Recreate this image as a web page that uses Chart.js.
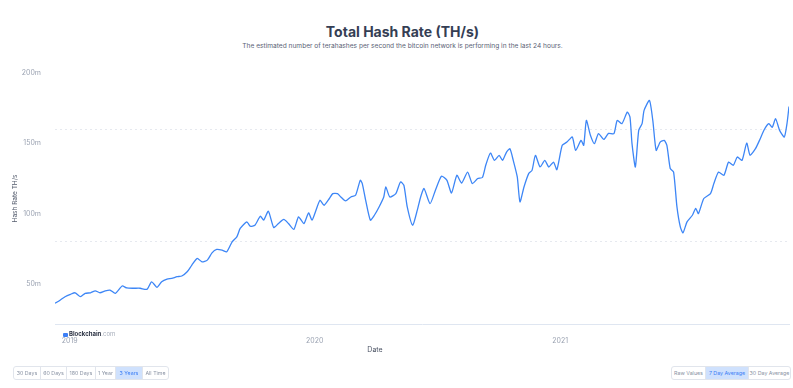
<!DOCTYPE html>
<html>
<head>
<meta charset="utf-8">
<script src="https://cdn.jsdelivr.net/npm/chart.js@4.4.1/dist/chart.umd.min.js"></script>
<style>
  body { margin: 0; width: 793px; height: 388px; background: #fff; position: relative; overflow: hidden; font-family: Inter, "Open Sans", sans-serif; }
  #chart-wrap { position: absolute; left: 0; top: 0; width: 793px; height: 360px; }
  #title { position: absolute; left: 0; width: 805px; top: 23px; text-align: center; font-size: 14px; font-weight: 700; color: #353e54; }
  #subtitle { position: absolute; left: 0; width: 805px; top: 42px; text-align: center; font-size: 6.6px; color: #5a6275; }
  #brand { position: absolute; left: 63px; top: 330px; font-size: 6px; line-height: 8px; color: #a7aebb; }
  #brand b { color: #2b3243; }
  #brand i { display: inline-block; width: 5px; height: 4px; background: #3d7ff5; border-radius: 1px; margin-right: 1px; vertical-align: -0.5px; }
  #xtitle { position: absolute; left: 355px; width: 40px; top: 345px; text-align: center; font-size: 7px; color: #4a5263; }
  .group { position: absolute; top: 366px; height: 14px; display: flex; border: 1px solid #e1e5ec; border-radius: 3px; box-sizing: border-box; }
  .group div { height: 12px; line-height: 12px; text-align: center; font-size: 5.3px; color: #8a93a4; border-right: 1px solid #e1e5ec; box-sizing: border-box; white-space: nowrap; overflow: hidden; }
  .group div:last-child { border-right: none; }
  .group div.on { background: #cfe1fd; color: #3d7ff5; }
</style>
</head>
<body>
<div id="title">Total Hash Rate (TH/s)</div>
<div id="subtitle">The estimated number of terahashes per second the bitcoin network is performing in the last 24 hours.</div>
<div id="chart-wrap"><canvas id="chart"></canvas></div>
<div id="brand"><i></i><b>Blockchain</b>.com</div>
<div id="xtitle">Date</div>
<div class="group" style="left:13px;">
  <div style="width:27px">30 Days</div>
  <div style="width:26px">60 Days</div>
  <div style="width:29px">180 Days</div>
  <div style="width:20px">1 Year</div>
  <div style="width:27px" class="on">3 Years</div>
  <div style="width:25px">All Time</div>
</div>
<div class="group" style="left:671px;">
  <div style="width:34px">Raw Values</div>
  <div style="width:43px" class="on">7 Day Average</div>
  <div style="width:41px">30 Day Average</div>
</div>
<script>
// 7 day average hash rate, millions of TH/s
const dates = [
  "2018-12-10", "2018-12-18", "2018-12-25", "2019-01-02", "2019-01-09", "2019-01-17", "2019-01-24",
  "2019-02-01", "2019-02-08", "2019-02-15", "2019-02-23", "2019-03-02", "2019-03-10", "2019-03-20",
  "2019-03-27", "2019-04-06", "2019-04-16", "2019-04-26", "2019-05-03", "2019-05-11", "2019-05-18",
  "2019-05-26", "2019-06-02", "2019-06-10", "2019-06-17", "2019-06-25", "2019-07-02", "2019-07-10",
  "2019-07-17", "2019-07-25", "2019-08-01", "2019-08-08", "2019-08-16", "2019-08-23", "2019-08-31",
  "2019-09-07", "2019-09-12", "2019-09-22", "2019-09-27", "2019-10-04", "2019-10-12", "2019-10-17",
  "2019-10-24", "2019-11-01", "2019-11-08", "2019-11-16", "2019-11-23", "2019-12-01", "2019-12-08",
  "2019-12-16", "2019-12-23", "2019-12-28", "2020-01-03", "2020-01-09", "2020-01-15", "2020-01-23",
  "2020-01-28", "2020-02-04", "2020-02-09", "2020-02-16", "2020-02-24", "2020-03-02", "2020-03-09",
  "2020-03-12", "2020-03-17", "2020-03-24", "2020-03-30", "2020-04-06", "2020-04-13", "2020-04-16",
  "2020-04-22", "2020-05-01", "2020-05-08", "2020-05-13", "2020-05-18", "2020-05-26", "2020-06-02",
  "2020-06-07", "2020-06-12", "2020-06-21", "2020-06-29", "2020-07-08", "2020-07-16", "2020-07-23",
  "2020-07-31", "2020-08-07", "2020-08-16", "2020-08-23", "2020-08-31", "2020-09-07", "2020-09-12",
  "2020-09-19", "2020-09-25", "2020-10-02", "2020-10-07", "2020-10-13", "2020-10-18", "2020-10-23",
  "2020-10-29", "2020-11-02", "2020-11-08", "2020-11-15", "2020-11-20", "2020-11-25", "2020-12-02",
  "2020-12-09", "2020-12-15", "2020-12-22", "2020-12-27", "2021-01-04", "2021-01-11", "2021-01-19",
  "2021-01-24", "2021-02-01", "2021-02-05", "2021-02-09", "2021-02-15", "2021-02-21", "2021-02-27",
  "2021-03-07", "2021-03-14", "2021-03-22", "2021-03-27", "2021-04-03", "2021-04-11", "2021-04-15",
  "2021-04-18", "2021-04-23", "2021-04-28", "2021-05-03", "2021-05-06", "2021-05-14", "2021-05-19",
  "2021-05-24", "2021-05-30", "2021-06-05", "2021-06-09", "2021-06-14", "2021-06-19", "2021-06-24",
  "2021-06-29", "2021-07-03", "2021-07-09", "2021-07-17", "2021-07-22", "2021-07-26", "2021-08-03",
  "2021-08-13", "2021-08-18", "2021-08-25", "2021-09-02", "2021-09-09", "2021-09-16", "2021-09-22",
  "2021-09-29", "2021-10-06", "2021-10-11", "2021-10-19", "2021-10-25", "2021-11-01", "2021-11-08",
  "2021-11-13", "2021-11-18", "2021-11-24", "2021-12-01", "2021-12-05", "2021-12-08"
];
const hashRate = [
  36.3, 38.7, 41.0, 42.7, 43.8, 41.0, 43.4,
  43.8, 45.2, 43.8, 45.2, 45.7, 43.4, 48.6,
  47.2, 47.0, 47.0, 46.2, 51.6, 47.7, 51.6,
  53.5, 54.0, 55.2, 55.7, 58.7, 63.5, 68.2,
  65.8, 67.0, 72.2, 74.6, 74.1, 72.9, 80.0,
  83.5, 89.5, 94.2, 91.1, 91.8, 98.2, 95.4,
  101.8, 90.2, 93.0, 95.9, 93.0, 88.8, 97.7,
  93.0, 100.6, 95.4, 102.5, 109.6, 106.0, 110.8,
  114.3, 114.3, 111.9, 109.1, 111.9, 113.1, 123.8,
  121.4, 109.6, 95.4, 98.9, 104.8, 111.9, 119.0,
  111.9, 114.3, 122.6, 120.2, 104.8, 91.8, 102.5,
  111.9, 117.9, 107.2, 116.7, 126.6, 123.8, 114.7,
  127.3, 121.8, 129.6, 121.4, 125.0, 125.7, 134.4,
  143.1, 137.9, 141.5, 137.9, 143.8, 146.2, 137.9,
  126.1, 108.4, 119.0, 128.5, 130.8, 141.5, 133.2,
  137.9, 133.2, 136.7, 131.3, 148.6, 150.9, 154.5,
  145.0, 152.1, 148.6, 166.3, 155.7, 149.8, 156.9,
  152.8, 157.1, 156.9, 166.3, 164.0, 172.2, 168.7,
  149.8, 133.2, 159.2, 164.0, 173.4, 180.5, 166.3,
  145.0, 150.9, 152.1, 148.6, 132.1, 129.6, 104.8,
  90.6, 86.4, 94.2, 98.9, 103.7, 100.1, 110.8,
  114.3, 121.4, 129.6, 127.3, 136.7, 134.4, 140.3,
  137.9, 150.2, 141.5, 146.2, 152.1, 159.7, 164.0,
  161.4, 167.5, 159.2, 154.5, 164.0, 176.2
];
const yearTicks = ["2019-01-01", "2020-01-01", "2021-01-01"];
const yearLabels = ["2019", "2020", "2021"];
const yTicks = [50, 100, 150, 200];
const gridValues = [80, 160];

const DAY = 86400000;
const toDay = (d) => Date.parse(d) / DAY;

const points = dates.map((d, i) => ({ x: toDay(d), y: hashRate[i] }));

new Chart(document.getElementById("chart"), {
  type: "line",
  data: {
    datasets: [
      {
        data: points,
        borderColor: "#3d86f6",
        borderWidth: 1.3,
        pointRadius: 0,
        tension: 0.2,
        fill: false,
      },
    ],
  },
  options: {
    responsive: true,
    maintainAspectRatio: false,
    animation: false,
    layout: { padding: { top: 73, right: 4, left: 0, bottom: 0 } },
    plugins: { legend: { display: false }, tooltip: { enabled: false } },
    scales: {
      x: {
        type: "linear",
        min: toDay(dates[0]),
        max: toDay(dates[dates.length - 1]),
        grid: { display: false },
        border: { display: true, color: "#dfe6f1", width: 1 },
        afterFit: (scale) => { scale.height = 36; },
        afterBuildTicks: (scale) => {
          scale.ticks = yearTicks.map((d) => ({ value: toDay(d) }));
        },
        ticks: {
          autoSkip: false,
          maxRotation: 0,
          padding: 5,
          color: "#9aa2b1",
          font: { family: "Inter", size: 7 },
          callback: (v) => yearLabels[yearTicks.findIndex((d) => toDay(d) === v)],
        },
      },
      y: {
        min: 21.6,
        max: 200,
        grid: { display: false },
        border: { display: false },
        afterFit: (scale) => { scale.width = 55; },
        afterBuildTicks: (scale) => {
          scale.ticks = yTicks.map((v) => ({ value: v }));
        },
        ticks: {
          padding: 6,
          color: "#9aa2b1",
          font: { family: "Inter", size: 7 },
          callback: (v) => v + "m",
        },
        title: {
          display: true,
          text: "Hash Rate TH/s",
          color: "#555d6e",
          font: { family: "Inter", size: 6.5 },
          padding: { top: 11, bottom: 0 },
        },
      },
      g: {
        position: "left",
        min: 21.6,
        max: 200,
        border: { display: false, dash: [2, 3] },
        afterFit: (scale) => { scale.width = 0; },
        afterBuildTicks: (scale) => {
          scale.ticks = gridValues.map((v) => ({ value: v }));
        },
        grid: { color: "#e6e9ef", lineWidth: 1, drawTicks: false },
        ticks: { display: false },
      },
    },
  },
});
</script>
</body>
</html>
